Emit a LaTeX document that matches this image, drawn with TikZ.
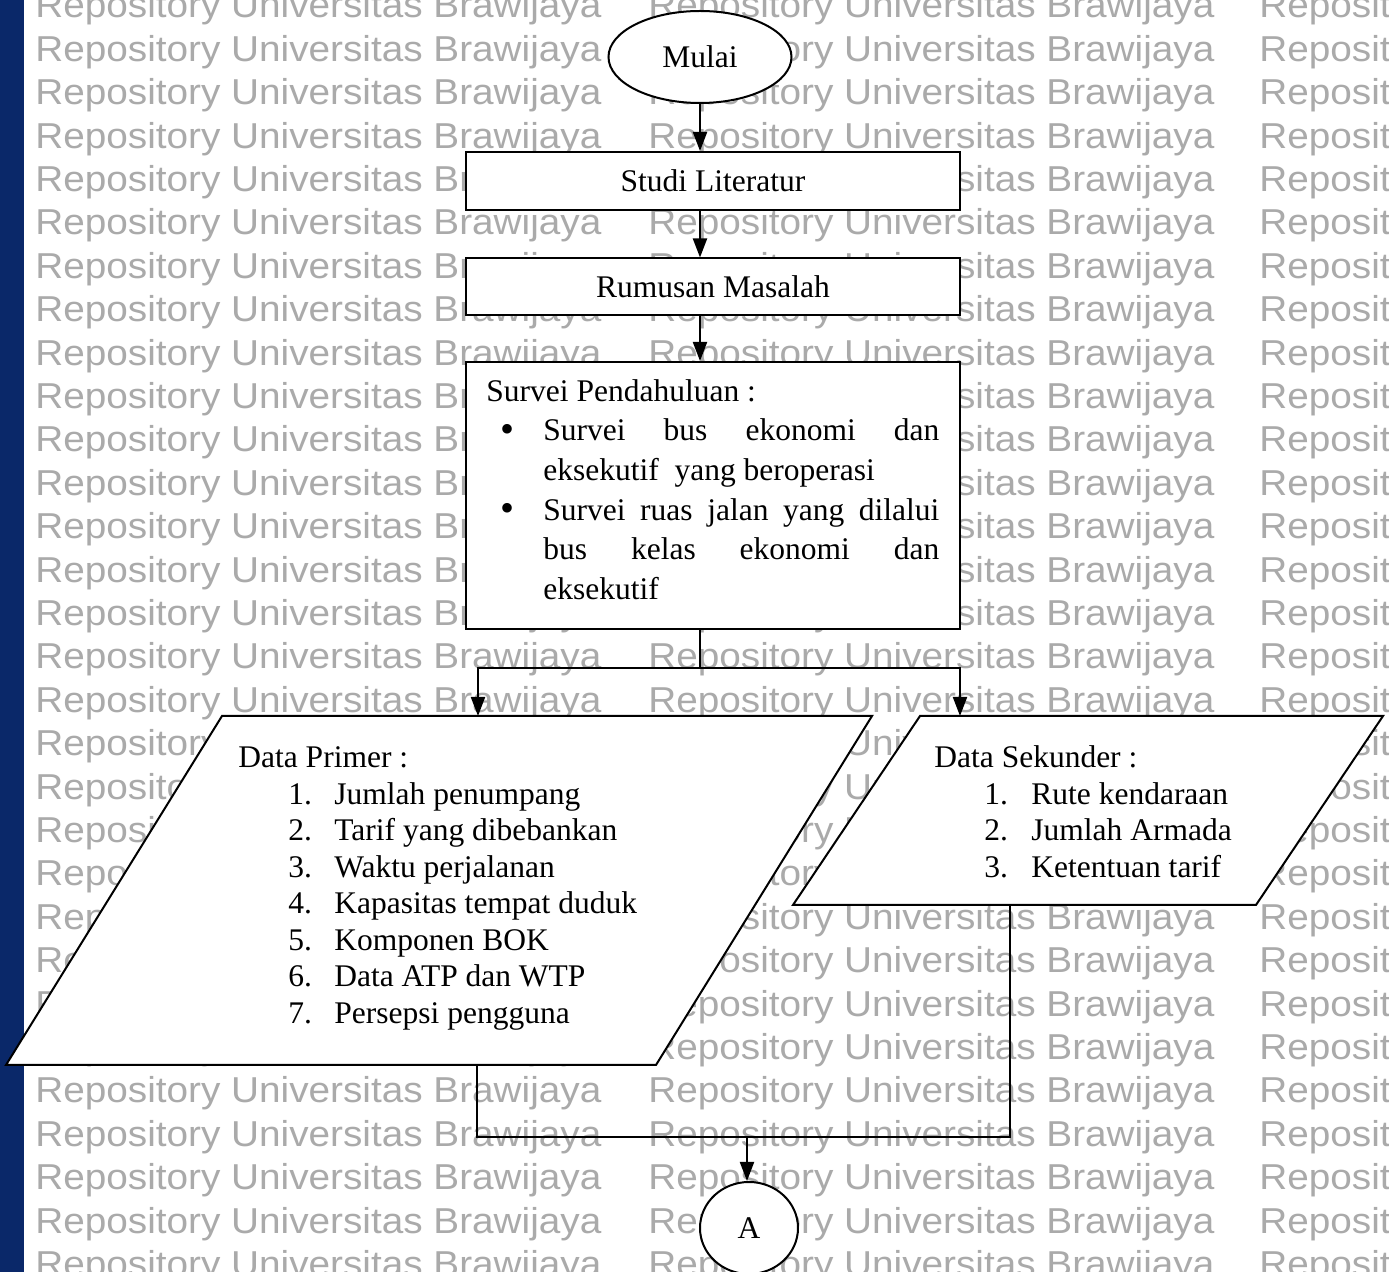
\documentclass[tikz,border=0pt]{standalone}
\usepackage{fontspec}
\usepackage{graphicx}
\setmainfont{Liberation Serif}
\newfontfamily\wmfont{Liberation Sans}
\usetikzlibrary{arrows.meta,shapes.geometric}
\definecolor{stripblue}{RGB}{10,40,105}
\definecolor{wmgray}{RGB}{170,170,170}

\begin{document}
\begin{tikzpicture}[x=0.5pt,y=-0.5pt,
  line/.style={line width=1pt},
  flow/.style={line width=1pt,-{Triangle[length=9.5pt,width=7pt]}},
  procbox/.style={draw,line width=1pt,fill=white,rectangle,inner sep=0pt,
    minimum width=247pt},
  terminal/.style={draw,line width=1pt,fill=white,ellipse,inner sep=0pt},
  iobox/.style={draw,line width=1pt,fill=white},
  txt/.style={anchor=base west,inner sep=0pt,font=\fontsize{15.75}{18}\selectfont},
  dot/.style={anchor=base west,inner sep=0pt,font=\fontsize{20}{20}\selectfont},
  wm/.style={anchor=base west,inner sep=0pt,text=wmgray,
    font=\wmfont\fontsize{18}{18}\selectfont},
]
\useasboundingbox (0,0) rectangle (1389,1272);
\clip (0,0) rectangle (1389,1272);
\fill[white] (0,0) rectangle (1389,1272);

% background watermark rows
\foreach \r in {0,...,29}{
  \foreach \c/\xx in {0/35,1/648,2/1259}{
    \node[wm] (wm-\r-\c) at (\xx,{18+43.4*\r})
      {\resizebox{283pt}{\height}{Repository Universitas Brawijaya}};
  }
}
\fill[stripblue] (0,0) rectangle (24,1272);

% start, process steps
\node[terminal,minimum width=91.5pt,minimum height=46pt,font=\fontsize{15.75}{18}\selectfont]
  (mulai) at (700,57) {Mulai};
\node[procbox,minimum height=29pt,font=\fontsize{15.75}{18}\selectfont]
  (studi) at (713,181) {Studi Literatur};
\node[procbox,minimum height=28.5pt,font=\fontsize{15.75}{18}\selectfont]
  (rumusan) at (713,287) {Rumusan Masalah};
\node[procbox,minimum height=133.5pt] (survei) at (713,495.5) {};

\draw[flow] (mulai.south) -- (mulai.south |- studi.north);
\draw[flow] (mulai.south |- studi.south) -- (mulai.south |- rumusan.north);
\draw[flow] (mulai.south |- rumusan.south) -- (mulai.south |- survei.north);

% preliminary survey text
\node[txt] (s0) at (486,402) {Survei Pendahuluan :};
\node[dot] (s1b) at (500,443) {•};
\node[txt] (s1) at (543,441) {\makebox[198pt][s]{Survei bus ekonomi dan}};
\node[txt] (s2) at (543,480.6) {eksekutif\ \ yang beroperasi};
\node[dot] (s3b) at (500,522) {•};
\node[txt] (s3) at (543,520.2) {\makebox[198pt][s]{Survei ruas jalan yang dilalui}};
\node[txt] (s4) at (543,559.8) {\makebox[198pt][s]{bus kelas ekonomi dan}};
\node[txt] (s5) at (543,599.4) {eksekutif};

% data input shapes
\draw[iobox] (222,716) -- (872,716) -- (656,1065) -- (6,1065) -- cycle;
\draw[iobox] (920,716) -- (1383,716) -- (1256,905) -- (793,905) -- cycle;
\coordinate (primT) at (478,716);
\coordinate (sekT) at (960,716);
\coordinate (primB) at (477,1065);
\coordinate (sekB) at (1010,905);
\coordinate (split) at (700,668);
\coordinate (merge) at (747,1137);

\draw[line] (mulai.south |- survei.south) -- (split);
\draw[flow] (split) -| (primT);
\draw[flow] (split) -| (sekT);

% primary data
\node[txt] (p0) at (238,768) {Data Primer :};
\foreach \k/\t in {1/Jumlah penumpang,2/Tarif yang dibebankan,3/Waktu perjalanan,
  4/Kapasitas tempat duduk,5/Komponen BOK,6/Data ATP dan WTP,7/Persepsi pengguna}{
  \node[txt] (pn\k) at (288,{768+36.5*\k}) {\k.};
  \node[txt] (p\k) at (334,{768+36.5*\k}) {\t};
}

% secondary data
\node[txt] (d0) at (934,768) {Data Sekunder :};
\foreach \k/\t in {1/Rute kendaraan,2/Jumlah Armada,3/Ketentuan tarif}{
  \node[txt] (dn\k) at (984,{768+36.5*\k}) {\k.};
  \node[txt] (d\k) at (1031,{768+36.5*\k}) {\t};
}

% off-page connector
\node[terminal,minimum width=49pt,minimum height=46pt,font=\fontsize{15.75}{18}\selectfont]
  (A) at (749,1228) {A};
\draw[line] (primB) |- (merge);
\draw[line] (sekB) |- (merge);
\draw[flow] (merge) -- (merge |- A.north);
\end{tikzpicture}
\end{document}
